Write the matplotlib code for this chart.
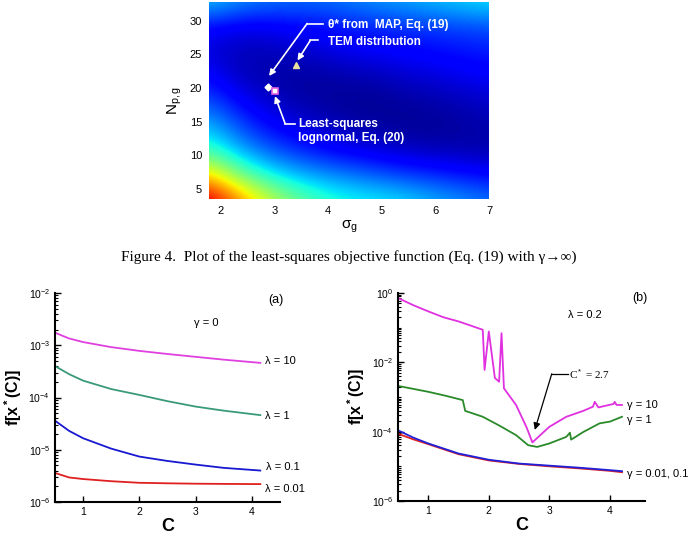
import numpy as np
import matplotlib
matplotlib.use("Agg")
import matplotlib.pyplot as plt
from matplotlib.ticker import LogLocator, NullFormatter

plt.rcParams['font.family'] = ['Liberation Sans', 'DejaVu Sans']
plt.rcParams['mathtext.fontset'] = 'custom'
plt.rcParams['mathtext.rm'] = 'Liberation Sans'
plt.rcParams['mathtext.it'] = 'Liberation Sans:italic'
plt.rcParams['mathtext.bf'] = 'Liberation Sans:bold'

# ---- top: objective function map (normalised colour level)
sig_grid = [1.8, 2.32, 2.84, 3.36, 3.88, 4.4, 4.92, 5.44, 5.96, 6.48, 7.0]
n_grid = [3.5, 7.16, 10.83, 14.49, 18.15, 21.81, 25.48, 29.14, 32.8]
level = [  # rows = n_grid (bottom to top), cols = sig_grid
    [0.95, 0.78, 0.62, 0.50, 0.42, 0.38, 0.36, 0.34, 0.30, 0.27, 0.24],
    [0.68, 0.50, 0.38, 0.31, 0.27, 0.24, 0.21, 0.18, 0.16, 0.14, 0.12],
    [0.42, 0.30, 0.22, 0.17, 0.13, 0.10, 0.08, 0.06, 0.05, 0.04, 0.04],
    [0.30, 0.20, 0.13, 0.09, 0.06, 0.04, 0.03, 0.02, 0.02, 0.03, 0.04],
    [0.20, 0.12, 0.07, 0.04, 0.03, 0.02, 0.02, 0.03, 0.04, 0.05, 0.07],
    [0.12, 0.06, 0.04, 0.03, 0.03, 0.04, 0.05, 0.07, 0.08, 0.10, 0.11],
    [0.08, 0.05, 0.05, 0.06, 0.08, 0.10, 0.11, 0.12, 0.13, 0.14, 0.15],
    [0.12, 0.10, 0.10, 0.12, 0.13, 0.15, 0.16, 0.17, 0.18, 0.19, 0.20],
    [0.32, 0.27, 0.24, 0.23, 0.23, 0.25, 0.27, 0.29, 0.31, 0.33, 0.35],
]
map_pt = (2.88, 20.2)
ls_pt = (3.01, 19.6)
tem_pt = (3.41, 23.4)

# ---- panel (a): gamma = 0
Ca = [0.5, 0.75, 1.0, 1.5, 2.0, 2.5, 3.0, 3.5, 4.15]
a_lam10 = [1.74e-3, 1.35e-3, 1.15e-3, 9.2e-4, 7.8e-4, 6.8e-4, 6.0e-4, 5.3e-4, 4.6e-4]
a_lam1 = [4.0e-4, 2.8e-4, 2.1e-4, 1.45e-4, 1.12e-4, 8.5e-5, 6.7e-5, 5.6e-5, 4.6e-5]
a_lam01 = [3.6e-5, 2.3e-5, 1.66e-5, 1.05e-5, 7.4e-6, 6.1e-6, 5.2e-6, 4.5e-6, 4.0e-6]
a_lam001 = [3.6e-6, 2.95e-6, 2.75e-6, 2.5e-6, 2.33e-6, 2.28e-6, 2.24e-6, 2.22e-6, 2.2e-6]

# ---- panel (b): lambda = 0.2 (log10 of f)
Cb_g10 = [0.5, 0.75, 1.0, 1.25, 1.5, 1.75, 1.9, 1.93, 2.0, 2.1, 2.17, 2.21, 2.25,
          2.45, 2.62, 2.72, 3.0, 3.28, 3.56, 3.72, 3.75, 3.81, 4.06, 4.08, 4.11, 4.2]
b_g10 = [-0.145, -0.35, -0.53, -0.7, -0.82, -0.97, -1.06, -2.22, -1.11, -2.45, -2.56,
         -1.16, -2.75, -3.23, -3.86, -4.31, -3.86, -3.57, -3.40, -3.28, -3.14, -3.30,
         -3.20, -3.14, -3.23, -3.23]
Cb_g1 = [0.5, 1.0, 1.3, 1.57, 1.61, 1.9, 2.18, 2.45, 2.65, 2.8, 3.0, 3.28, 3.34,
         3.36, 3.56, 3.83, 4.0, 4.2]
b_g1 = [-2.68, -2.85, -2.97, -3.09, -3.40, -3.57, -3.83, -4.10, -4.39, -4.44, -4.34,
        -4.15, -4.03, -4.23, -4.01, -3.76, -3.71, -3.57]
Cb_low = [0.5, 0.75, 1.0, 1.5, 2.0, 2.5, 3.0, 3.5, 4.0, 4.2]
b_g01 = [-3.96, -4.17, -4.34, -4.63, -4.81, -4.92, -4.98, -5.04, -5.11, -5.14]
b_g001 = [-4.06, -4.22, -4.36, -4.65, -4.83, -4.93, -5.00, -5.06, -5.13, -5.17]

fig = plt.figure(figsize=(6.94, 5.37), dpi=100)

# ================= heatmap
ax = fig.add_axes([209 / 694, 1 - 199 / 537, 280 / 694, 197 / 537])
hs = (sig_grid[1] - sig_grid[0]) / 2
hn = (n_grid[1] - n_grid[0]) / 2
ax.imshow(np.array(level), cmap='jet', vmin=0, vmax=1, origin='lower', aspect='auto',
          interpolation='bicubic',
          extent=[sig_grid[0] - hs, sig_grid[-1] + hs, n_grid[0] - hn, n_grid[-1] + hn])
ax.set_xlim(1.78, 7.0)
ax.set_ylim(3.5, 32.8)
ax.set_xticks([2, 3, 4, 5, 6, 7])
ax.set_yticks([5, 10, 15, 20, 25, 30])
ax.tick_params(length=0, labelsize=8, pad=5)
for s in ax.spines.values():
    s.set_visible(False)
ax.set_xlabel('σ$_\\mathrm{g}$', fontsize=11, labelpad=2)
ax.set_ylabel('N$_\\mathrm{p,g}$', fontsize=11, labelpad=4)

ax.plot(*map_pt, marker='D', ms=3.5, color='white', mec='white')
ax.plot(*ls_pt, marker='s', ms=5, color='white', mec='#e060e0', mew=1.2)
ax.plot(*tem_pt, marker='^', ms=5, color='#e8e0a0', mec='#e8e0a0')

wt = dict(color='white', fontsize=8.5, fontweight='bold', va='center')
ax.text(4.0, 29.4, 'θ* from  MAP, Eq. (19)', **wt)
ax.text(4.0, 26.9, 'TEM distribution', **wt)
ax.text(3.44, 13.6, 'Least-squares\nlognormal, Eq. (20)', linespacing=1.25, **wt)
arr = dict(arrowstyle='-|>', color='white', lw=1.2, mutation_scale=9, shrinkA=0, shrinkB=0)
ax.plot([3.91, 3.61], [29.6, 29.6], color='white', lw=1.2)
ax.annotate('', xy=(2.90, 21.8), xytext=(3.61, 29.6), arrowprops=arr)
ax.plot([3.82, 3.67], [27.1, 27.1], color='white', lw=1.2)
ax.annotate('', xy=(3.43, 24.1), xytext=(3.67, 27.1), arrowprops=arr)
ax.plot([3.39, 3.20], [14.7, 14.7], color='white', lw=1.2)
ax.annotate('', xy=(3.01, 18.8), xytext=(3.20, 14.7), arrowprops=arr)

fig.text(349 / 694, 1 - 257 / 537,
         'Figure 4.  Plot of the least-squares objective function (Eq. (19) with γ→∞)',
         family=['Liberation Serif', 'DejaVu Serif'], fontsize=11, ha='center', va='center')


def style(ax):
    ax.set_yscale('log')
    for s in ['top', 'right']:
        ax.spines[s].set_visible(False)
    for s in ['left', 'bottom']:
        ax.spines[s].set_linewidth(1.5)
    ax.tick_params(direction='in', labelsize=7.5, width=1, length=4)
    ax.tick_params(which='minor', direction='in', length=2.5, width=0.8)
    ax.yaxis.set_minor_locator(LogLocator(base=10, subs=np.arange(2, 10), numticks=20))
    ax.yaxis.set_minor_formatter(NullFormatter())
    ax.set_xticks([1, 2, 3, 4])
    ax.set_xlabel('C', fontsize=13, fontweight='bold', labelpad=1)
    ax.set_ylabel(r'$\mathbf{f[x^*(C)]}$', fontsize=11.5, labelpad=3)


# ================= panel (a)
ax1 = fig.add_axes([55 / 694, 1 - 502 / 537, 225 / 694, 209 / 537])
ax1.plot(Ca, a_lam10, color='#e040e0', lw=1.3)
ax1.plot(Ca, a_lam1, color='#3a9a78', lw=1.3)
ax1.plot(Ca, a_lam01, color='#1818d0', lw=1.3)
ax1.plot(Ca, a_lam001, color='#e02020', lw=1.3)
ax1.set_xlim(0.5, 4.5)
ax1.set_ylim(1e-6, 1e-2)
style(ax1)
ax1.set_yticks([1e-6, 1e-5, 1e-4, 1e-3, 1e-2])
lt = dict(fontsize=8, va='center', ha='left', clip_on=False)
ax1.text(4.24, 10 ** -3.30, 'λ = 10', **lt)
ax1.text(4.24, 10 ** -4.35, 'λ = 1', **lt)
ax1.text(4.26, 10 ** -5.33, 'λ = 0.1', **lt)
ax1.text(4.24, 10 ** -5.75, 'λ = 0.01', **lt)
ax1.text(4.42, 10 ** -2.13, '(a)', fontsize=9, ha='center', va='center')
ax1.text(3.18, 10 ** -2.57, 'γ = 0', fontsize=8, ha='center', va='center')

# ================= panel (b)
ax2 = fig.add_axes([398 / 694, 1 - 501 / 537, 247 / 694, 208 / 537])
ax2.plot(Cb_g10, 10 ** np.array(b_g10), color='#e030e0', lw=1.3)
ax2.plot(Cb_g1, 10 ** np.array(b_g1), color='#2a8a2a', lw=1.3)
ax2.plot(Cb_low, 10 ** np.array(b_g001), color='#e02020', lw=1.3)
ax2.plot(Cb_low, 10 ** np.array(b_g01), color='#2020d8', lw=1.3)
ax2.set_xlim(0.5, 4.58)
ax2.set_ylim(1e-6, 1)
style(ax2)
ax2.set_yticks([1e-6, 1e-4, 1e-2, 1e0])
ax2.yaxis.set_minor_locator(LogLocator(base=10, subs=np.arange(1, 10), numticks=20))
ax2.yaxis.set_minor_formatter(NullFormatter())
ax2.text(4.28, 10 ** -3.23, 'γ = 10', **lt)
ax2.text(4.28, 10 ** -3.66, 'γ = 1', **lt)
ax2.text(4.28, 10 ** -5.22, 'γ = 0.01, 0.1', **lt)
ax2.text(4.5, 10 ** -0.14, '(b)', fontsize=9, ha='center', va='center')
ax2.text(3.59, 10 ** -0.63, 'λ = 0.2', fontsize=8, ha='center', va='center')
ax2.text(3.33, 10 ** -2.33, 'C$^*$ = 2.7', fontsize=8, va='center',
         family=['Liberation Serif', 'DejaVu Serif'])
ax2.plot([3.30, 3.04], [10 ** -2.33, 10 ** -2.33], color='black', lw=0.9)
ax2.annotate('', xy=(2.76, 10 ** -3.95), xytext=(3.04, 10 ** -2.33),
             arrowprops=dict(arrowstyle='-|>', color='black', lw=0.9,
                             mutation_scale=10, shrinkA=0, shrinkB=0))

fig.savefig('out.png', dpi=100)
